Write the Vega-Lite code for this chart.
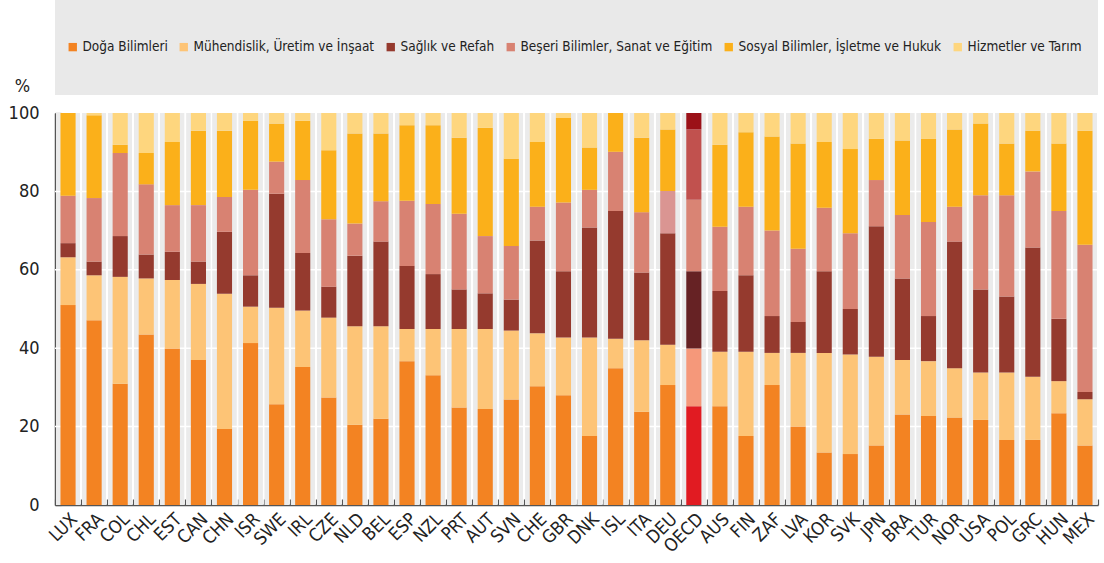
{
  "$schema": "https://vega.github.io/schema/vega-lite/v6.json",
  "padding": {"left": 8, "top": 0, "right": 4, "bottom": 4},
  "background": "white",
  "data": {"values": [
    {"country": "LUX", "Doğa Bilimleri": 51.0, "Mühendislik, Üretim ve İnşaat": 12.2, "Sağlık ve Refah": 3.6, "Beşeri Bilimler, Sanat ve Eğitim": 12.1, "Sosyal Bilimler, İşletme ve Hukuk": 21.1, "Hizmetler ve Tarım": 0.0},
    {"country": "FRA", "Doğa Bilimleri": 47.1, "Mühendislik, Üretim ve İnşaat": 11.5, "Sağlık ve Refah": 3.5, "Beşeri Bilimler, Sanat ve Eğitim": 16.2, "Sosyal Bilimler, İşletme ve Hukuk": 21.1, "Hizmetler ve Tarım": 0.6},
    {"country": "COL", "Doğa Bilimleri": 30.9, "Mühendislik, Üretim ve İnşaat": 27.3, "Sağlık ve Refah": 10.4, "Beşeri Bilimler, Sanat ve Eğitim": 21.2, "Sosyal Bilimler, İşletme ve Hukuk": 2.1, "Hizmetler ve Tarım": 8.1},
    {"country": "CHL", "Doğa Bilimleri": 43.5, "Mühendislik, Üretim ve İnşaat": 14.3, "Sağlık ve Refah": 6.1, "Beşeri Bilimler, Sanat ve Eğitim": 17.9, "Sosyal Bilimler, İşletme ve Hukuk": 8.0, "Hizmetler ve Tarım": 10.2},
    {"country": "EST", "Doğa Bilimleri": 39.9, "Mühendislik, Üretim ve İnşaat": 17.5, "Sağlık ve Refah": 7.2, "Beşeri Bilimler, Sanat ve Eğitim": 11.9, "Sosyal Bilimler, İşletme ve Hukuk": 16.1, "Hizmetler ve Tarım": 7.4},
    {"country": "CAN", "Doğa Bilimleri": 37.0, "Mühendislik, Üretim ve İnşaat": 19.4, "Sağlık ve Refah": 5.7, "Beşeri Bilimler, Sanat ve Eğitim": 14.4, "Sosyal Bilimler, İşletme ve Hukuk": 19.0, "Hizmetler ve Tarım": 4.5},
    {"country": "CHN", "Doğa Bilimleri": 19.4, "Mühendislik, Üretim ve İnşaat": 34.5, "Sağlık ve Refah": 15.8, "Beşeri Bilimler, Sanat ve Eğitim": 8.9, "Sosyal Bilimler, İşletme ve Hukuk": 16.9, "Hizmetler ve Tarım": 4.5},
    {"country": "ISR", "Doğa Bilimleri": 41.3, "Mühendislik, Üretim ve İnşaat": 9.3, "Sağlık ve Refah": 8.0, "Beşeri Bilimler, Sanat ve Eğitim": 21.8, "Sosyal Bilimler, İşletme ve Hukuk": 17.6, "Hizmetler ve Tarım": 2.0},
    {"country": "SWE", "Doğa Bilimleri": 25.7, "Mühendislik, Üretim ve İnşaat": 24.6, "Sağlık ve Refah": 29.1, "Beşeri Bilimler, Sanat ve Eğitim": 8.2, "Sosyal Bilimler, İşletme ve Hukuk": 9.7, "Hizmetler ve Tarım": 2.7},
    {"country": "IRL", "Doğa Bilimleri": 35.2, "Mühendislik, Üretim ve İnşaat": 14.4, "Sağlık ve Refah": 14.7, "Beşeri Bilimler, Sanat ve Eğitim": 18.6, "Sosyal Bilimler, İşletme ve Hukuk": 15.1, "Hizmetler ve Tarım": 2.0},
    {"country": "CZE", "Doğa Bilimleri": 27.4, "Mühendislik, Üretim ve İnşaat": 20.4, "Sağlık ve Refah": 7.9, "Beşeri Bilimler, Sanat ve Eğitim": 17.2, "Sosyal Bilimler, İşletme ve Hukuk": 17.6, "Hizmetler ve Tarım": 9.5},
    {"country": "NLD", "Doğa Bilimleri": 20.5, "Mühendislik, Üretim ve İnşaat": 25.1, "Sağlık ve Refah": 18.0, "Beşeri Bilimler, Sanat ve Eğitim": 8.2, "Sosyal Bilimler, İşletme ve Hukuk": 23.0, "Hizmetler ve Tarım": 5.2},
    {"country": "BEL", "Doğa Bilimleri": 22.0, "Mühendislik, Üretim ve İnşaat": 23.6, "Sağlık ve Refah": 21.6, "Beşeri Bilimler, Sanat ve Eğitim": 10.3, "Sosyal Bilimler, İşletme ve Hukuk": 17.3, "Hizmetler ve Tarım": 5.2},
    {"country": "ESP", "Doğa Bilimleri": 36.7, "Mühendislik, Üretim ve İnşaat": 8.2, "Sağlık ve Refah": 16.1, "Beşeri Bilimler, Sanat ve Eğitim": 16.6, "Sosyal Bilimler, İşletme ve Hukuk": 19.3, "Hizmetler ve Tarım": 3.1},
    {"country": "NZL", "Doğa Bilimleri": 33.1, "Mühendislik, Üretim ve İnşaat": 11.8, "Sağlık ve Refah": 14.0, "Beşeri Bilimler, Sanat ve Eğitim": 17.9, "Sosyal Bilimler, İşletme ve Hukuk": 20.1, "Hizmetler ve Tarım": 3.1},
    {"country": "PRT", "Doğa Bilimleri": 24.9, "Mühendislik, Üretim ve İnşaat": 20.0, "Sağlık ve Refah": 10.1, "Beşeri Bilimler, Sanat ve Eğitim": 19.3, "Sosyal Bilimler, İşletme ve Hukuk": 19.4, "Hizmetler ve Tarım": 6.3},
    {"country": "AUT", "Doğa Bilimleri": 24.5, "Mühendislik, Üretim ve İnşaat": 20.4, "Sağlık ve Refah": 9.1, "Beşeri Bilimler, Sanat ve Eğitim": 14.6, "Sosyal Bilimler, İşletme ve Hukuk": 27.6, "Hizmetler ve Tarım": 3.8},
    {"country": "SVN", "Doğa Bilimleri": 26.9, "Mühendislik, Üretim ve İnşaat": 17.6, "Sağlık ve Refah": 7.9, "Beşeri Bilimler, Sanat ve Eğitim": 13.7, "Sosyal Bilimler, İşletme ve Hukuk": 22.2, "Hizmetler ve Tarım": 11.7},
    {"country": "CHE", "Doğa Bilimleri": 30.3, "Mühendislik, Üretim ve İnşaat": 13.5, "Sağlık ve Refah": 23.7, "Beşeri Bilimler, Sanat ve Eğitim": 8.6, "Sosyal Bilimler, İşletme ve Hukuk": 16.5, "Hizmetler ve Tarım": 7.4},
    {"country": "GBR", "Doğa Bilimleri": 28.0, "Mühendislik, Üretim ve İnşaat": 14.7, "Sağlık ve Refah": 16.9, "Beşeri Bilimler, Sanat ve Eğitim": 17.6, "Sosyal Bilimler, İşletme ve Hukuk": 21.5, "Hizmetler ve Tarım": 1.3},
    {"country": "DNK", "Doğa Bilimleri": 17.6, "Mühendislik, Üretim ve İnşaat": 25.1, "Sağlık ve Refah": 28.1, "Beşeri Bilimler, Sanat ve Eğitim": 9.6, "Sosyal Bilimler, İşletme ve Hukuk": 10.8, "Hizmetler ve Tarım": 8.8},
    {"country": "ISL", "Doğa Bilimleri": 34.9, "Mühendislik, Üretim ve İnşaat": 7.5, "Sağlık ve Refah": 32.6, "Beşeri Bilimler, Sanat ve Eğitim": 15.1, "Sosyal Bilimler, İşletme ve Hukuk": 9.9, "Hizmetler ve Tarım": 0.0},
    {"country": "ITA", "Doğa Bilimleri": 23.8, "Mühendislik, Üretim ve İnşaat": 18.2, "Sağlık ve Refah": 17.3, "Beşeri Bilimler, Sanat ve Eğitim": 15.4, "Sosyal Bilimler, İşletme ve Hukuk": 19.0, "Hizmetler ve Tarım": 6.3},
    {"country": "DEU", "Doğa Bilimleri": 30.6, "Mühendislik, Üretim ve İnşaat": 10.3, "Sağlık ve Refah": 28.4, "Beşeri Bilimler, Sanat ve Eğitim": 10.8, "Sosyal Bilimler, İşletme ve Hukuk": 15.7, "Hizmetler ve Tarım": 4.2},
    {"country": "OECD", "Doğa Bilimleri": 25.2, "Mühendislik, Üretim ve İnşaat": 14.7, "Sağlık ve Refah": 19.7, "Beşeri Bilimler, Sanat ve Eğitim": 18.3, "Sosyal Bilimler, İşletme ve Hukuk": 17.9, "Hizmetler ve Tarım": 4.2},
    {"country": "AUS", "Doğa Bilimleri": 25.2, "Mühendislik, Üretim ve İnşaat": 13.9, "Sağlık ve Refah": 15.5, "Beşeri Bilimler, Sanat ve Eğitim": 16.4, "Sosyal Bilimler, İşletme ve Hukuk": 20.9, "Hizmetler ve Tarım": 8.1},
    {"country": "FIN", "Doğa Bilimleri": 17.6, "Mühendislik, Üretim ve İnşaat": 21.5, "Sağlık ve Refah": 19.5, "Beşeri Bilimler, Sanat ve Eğitim": 17.5, "Sosyal Bilimler, İşletme ve Hukuk": 19.0, "Hizmetler ve Tarım": 4.9},
    {"country": "ZAF", "Doğa Bilimleri": 30.6, "Mühendislik, Üretim ve İnşaat": 8.2, "Sağlık ve Refah": 9.4, "Beşeri Bilimler, Sanat ve Eğitim": 21.8, "Sosyal Bilimler, İşletme ve Hukuk": 24.0, "Hizmetler ve Tarım": 6.0},
    {"country": "LVA", "Doğa Bilimleri": 20.0, "Mühendislik, Üretim ve İnşaat": 18.8, "Sağlık ve Refah": 7.9, "Beşeri Bilimler, Sanat ve Eğitim": 18.7, "Sosyal Bilimler, İşletme ve Hukuk": 26.8, "Hizmetler ve Tarım": 7.8},
    {"country": "KOR", "Doğa Bilimleri": 13.4, "Mühendislik, Üretim ve İnşaat": 25.4, "Sağlık ve Refah": 20.8, "Beşeri Bilimler, Sanat ve Eğitim": 16.2, "Sosyal Bilimler, İşletme ve Hukuk": 16.8, "Hizmetler ve Tarım": 7.4},
    {"country": "SVK", "Doğa Bilimleri": 13.0, "Mühendislik, Üretim ve İnşaat": 25.4, "Sağlık ve Refah": 11.6, "Beşeri Bilimler, Sanat ve Eğitim": 19.3, "Sosyal Bilimler, İşletme ve Hukuk": 21.5, "Hizmetler ve Tarım": 9.2},
    {"country": "JPN", "Doğa Bilimleri": 15.2, "Mühendislik, Üretim ve İnşaat": 22.6, "Sağlık ve Refah": 33.3, "Beşeri Bilimler, Sanat ve Eğitim": 11.8, "Sosyal Bilimler, İşletme ve Hukuk": 10.5, "Hizmetler ve Tarım": 6.6},
    {"country": "BRA", "Doğa Bilimleri": 23.1, "Mühendislik, Üretim ve İnşaat": 13.9, "Sağlık ve Refah": 20.8, "Beşeri Bilimler, Sanat ve Eğitim": 16.2, "Sosyal Bilimler, İşletme ve Hukuk": 19.0, "Hizmetler ve Tarım": 7.0},
    {"country": "TUR", "Doğa Bilimleri": 22.7, "Mühendislik, Üretim ve İnşaat": 14.0, "Sağlık ve Refah": 11.5, "Beşeri Bilimler, Sanat ve Eğitim": 24.0, "Sosyal Bilimler, İşletme ve Hukuk": 21.2, "Hizmetler ve Tarım": 6.6},
    {"country": "NOR", "Doğa Bilimleri": 22.3, "Mühendislik, Üretim ve İnşaat": 12.6, "Sağlık ve Refah": 32.3, "Beşeri Bilimler, Sanat ve Eğitim": 8.9, "Sosyal Bilimler, İşletme ve Hukuk": 19.7, "Hizmetler ve Tarım": 4.2},
    {"country": "USA", "Doğa Bilimleri": 21.7, "Mühendislik, Üretim ve İnşaat": 12.1, "Sağlık ve Refah": 21.2, "Beşeri Bilimler, Sanat ve Eğitim": 24.0, "Sosyal Bilimler, İşletme ve Hukuk": 18.3, "Hizmetler ve Tarım": 2.7},
    {"country": "POL", "Doğa Bilimleri": 16.6, "Mühendislik, Üretim ve İnşaat": 17.2, "Sağlık ve Refah": 19.4, "Beşeri Bilimler, Sanat ve Eğitim": 25.8, "Sosyal Bilimler, İşletme ve Hukuk": 13.2, "Hizmetler ve Tarım": 7.8},
    {"country": "GRC", "Doğa Bilimleri": 16.6, "Mühendislik, Üretim ve İnşaat": 16.1, "Sağlık ve Refah": 33.0, "Beşeri Bilimler, Sanat ve Eğitim": 19.4, "Sosyal Bilimler, İşletme ve Hukuk": 10.4, "Hizmetler ve Tarım": 4.5},
    {"country": "HUN", "Doğa Bilimleri": 23.4, "Mühendislik, Üretim ve İnşaat": 8.2, "Sağlık ve Refah": 15.9, "Beşeri Bilimler, Sanat ve Eğitim": 27.5, "Sosyal Bilimler, İşletme ve Hukuk": 17.2, "Hizmetler ve Tarım": 7.8},
    {"country": "MEX", "Doğa Bilimleri": 15.2, "Mühendislik, Üretim ve İnşaat": 11.8, "Sağlık ve Refah": 1.8, "Beşeri Bilimler, Sanat ve Eğitim": 37.6, "Sosyal Bilimler, İşletme ve Hukuk": 29.1, "Hizmetler ve Tarım": 4.5}
  ]},
  "transform": [
    {"fold": ["Doğa Bilimleri", "Mühendislik, Üretim ve İnşaat", "Sağlık ve Refah", "Beşeri Bilimler, Sanat ve Eğitim", "Sosyal Bilimler, İşletme ve Hukuk", "Hizmetler ve Tarım"], "as": ["category", "value"]},
    {"window": [{"op": "row_number", "as": "stackOrder"}], "groupby": ["country"]}
  ],
  "vconcat": [
    {
      "width": 1043,
      "height": 95,
      "view": {"fill": "#e9e9e9", "stroke": null},
      "mark": {"type": "square", "opacity": 0},
      "encoding": {
        "color": {
          "field": "category", "type": "nominal",
          "scale": {
            "domain": ["Doğa Bilimleri", "Mühendislik, Üretim ve İnşaat", "Sağlık ve Refah", "Beşeri Bilimler, Sanat ve Eğitim", "Sosyal Bilimler, İşletme ve Hukuk", "Hizmetler ve Tarım"],
            "range": ["#f38322", "#fdc476", "#953a2e", "#d88272", "#fbb01a", "#fed67e"]
          },
          "legend": {
            "orient": "top-left",
            "direction": "horizontal",
            "title": " ",
            "titleFontSize": 14,
            "titlePadding": 15,
            "offset": 0,
            "padding": 11,
            "symbolType": "square",
            "symbolSize": 70,
            "symbolStrokeWidth": 0,
            "symbolOpacity": 1,
            "labelFont": "Liberation Sans Narrow, DejaVu Sans Condensed, Arial Narrow, Liberation Sans, sans-serif",
            "labelFontSize": 13.5,
            "labelColor": "#222",
            "labelLimit": 400,
            "labelOffset": 3,
            "columnPadding": 9
          }
        }
      }
    },
    {
      "width": 1043,
      "height": 392,
      "layer": [
        {
          "mark": {"type": "bar", "color": "#ebebeb", "width": {"band": 0.9}},
          "encoding": {
            "x": {"field": "country", "type": "nominal", "sort": null, "title": null,
                  "scale": {"paddingInner": 0, "paddingOuter": 0}},
            "y": {"datum": 100, "type": "quantitative", "title": "%",
                  "scale": {"domain": [0, 100], "nice": false},
                  "axis": {"values": [0, 20, 40, 60, 80, 100]}}
          }
        },
        {
          "data": {"values": [{"grid": 20}, {"grid": 40}, {"grid": 60}, {"grid": 80}]},
          "mark": {"type": "rule", "color": "white", "strokeWidth": 1.5},
          "encoding": {
            "y": {"field": "grid", "type": "quantitative", "title": "%",
                  "axis": {"values": [0, 20, 40, 60, 80, 100]}}
          }
        },
        {
          "mark": {"type": "bar", "width": {"band": 0.58}},
          "encoding": {
            "x": {"field": "country", "type": "nominal", "sort": null, "title": null},
            "y": {"field": "value", "type": "quantitative", "stack": "zero", "title": "%",
                  "axis": {"values": [0, 20, 40, 60, 80, 100]}},
            "order": {"field": "stackOrder", "type": "quantitative", "sort": "ascending"},
            "color": {
              "condition": [
                {"test": "datum.country === 'OECD' && datum.category === 'Doğa Bilimleri'", "value": "#e11b22"},
                {"test": "datum.country === 'OECD' && datum.category === 'Mühendislik, Üretim ve İnşaat'", "value": "#f5987a"},
                {"test": "datum.country === 'OECD' && datum.category === 'Sağlık ve Refah'", "value": "#662224"},
                {"test": "datum.country === 'OECD' && datum.category === 'Beşeri Bilimler, Sanat ve Eğitim'", "value": "#d98474"},
                {"test": "datum.country === 'OECD' && datum.category === 'Sosyal Bilimler, İşletme ve Hukuk'", "value": "#c1514e"},
                {"test": "datum.country === 'OECD' && datum.category === 'Hizmetler ve Tarım'", "value": "#9b1118"},
                {"test": "datum.country === 'DEU' && datum.category === 'Beşeri Bilimler, Sanat ve Eğitim'", "value": "#da9592"}
              ],
              "field": "category", "type": "nominal",
              "scale": {
                "domain": ["Doğa Bilimleri", "Mühendislik, Üretim ve İnşaat", "Sağlık ve Refah", "Beşeri Bilimler, Sanat ve Eğitim", "Sosyal Bilimler, İşletme ve Hukuk", "Hizmetler ve Tarım"],
                "range": ["#f38322", "#fdc476", "#953a2e", "#d88272", "#fbb01a", "#fed67e"]
              },
              "legend": null
            }
          }
        }
      ]
    }
  ],
  "spacing": 18,
  "bounds": "flush",
  "resolve": {"scale": {"color": "independent"}, "legend": {"color": "independent"}},
  "config": {
    "view": {"stroke": null},
    "axis": {
      "labelFont": "Liberation Sans Narrow, DejaVu Sans Condensed, Arial Narrow, Liberation Sans, sans-serif",
      "labelFontSize": 18,
      "labelColor": "#222",
      "titleFont": "Liberation Sans Narrow, DejaVu Sans Condensed, Arial Narrow, Liberation Sans, sans-serif",
      "titleColor": "#222",
      "domainColor": "#555",
      "domainWidth": 1.5,
      "tickColor": "#555",
      "tickWidth": 1.2,
      "grid": false
    },
    "axisY": {
      "tickSize": -6,
      "labelPadding": 22,
      "titleAngle": 0,
      "titleFontSize": 18,
      "titleFontWeight": "normal",
      "titleX": -33,
      "titleY": -22,
      "titleAlign": "center",
      "titleBaseline": "alphabetic"
    },
    "axisX": {
      "labelAngle": -45,
      "tickBand": "extent",
      "tickSize": -6,
      "labelPadding": 11
    }
  }
}
